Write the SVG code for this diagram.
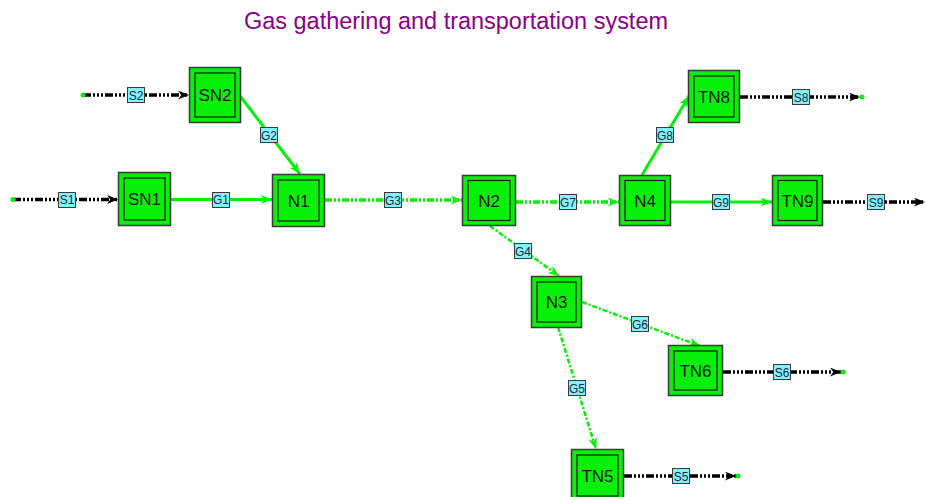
<svg xmlns="http://www.w3.org/2000/svg" width="926" height="497" viewBox="0 0 926 497">
  <style>
    .title { font-family: "Liberation Sans", Arial, sans-serif; font-size: 23.5px; fill: #880088; }
    .outer { fill: #08f008; stroke: #3a3a3a; stroke-width: 1.5; }
    .inner { fill: #08f008; stroke: #1a1a1a; stroke-width: 1.2; }
    .nlabel { font-family: "Liberation Sans", Arial, sans-serif; font-size: 17px; fill: #0d1a0d; text-anchor: middle; }
    .tag rect { fill: #84f2fa; stroke: #3a3a3a; stroke-width: 1; }
    .tag text { font-family: "Liberation Sans", Arial, sans-serif; font-size: 12px; fill: #1a2a3a; text-anchor: middle; }
    .src { stroke: #000; stroke-width: 3.5; fill: none; stroke-dasharray: 8 2 2 2 2 2 2 2; }
    .pipe { stroke: #08f008; stroke-width: 3; fill: none; }
    .pipe-dash { stroke: #08f008; stroke-width: 3.5; fill: none; stroke-dasharray: 7 2 2 2 2 2; }
    .pipe-thin { stroke: #08f008; stroke-width: 2.5; fill: none; stroke-dasharray: 5 2 2 2; }
    .end { fill: #08f008; }
  </style>
  <defs>
    <marker id="arrowBlack" viewBox="0 0 10 8" refX="10" refY="4" markerWidth="11" markerHeight="9" markerUnits="userSpaceOnUse" orient="auto">
      <path d="M0,0 L10,4 L0,8 L3,4 Z" fill="#000"/>
    </marker>
    <marker id="arrowGreen" viewBox="0 0 10 8" refX="10" refY="4" markerWidth="12" markerHeight="9" markerUnits="userSpaceOnUse" orient="auto">
      <path d="M0,0 L10,4 L0,8 L3,4 Z" fill="#08f008"/>
    </marker>
  </defs>

  <text class="title" x="244" y="29" textLength="424" lengthAdjust="spacingAndGlyphs">Gas gathering and transportation system</text>

  <!-- connectors -->
  <g id="connectors">
    <!-- supply / delivery streams -->
    <g id="S1">
      <line class="src" x1="13" y1="199.5" x2="118" y2="199.5" marker-end="url(#arrowBlack)"/>
      <circle class="end" cx="13" cy="199.5" r="2.5"/>
      <g class="tag"><rect x="58.5" y="192.5" width="17" height="15"/><text x="67" y="204">S1</text></g>
    </g>
    <g id="S2">
      <line class="src" x1="83" y1="95" x2="189" y2="95" marker-end="url(#arrowBlack)"/>
      <circle class="end" cx="83" cy="95" r="2.5"/>
      <g class="tag"><rect x="127.5" y="87.5" width="17" height="15"/><text x="136" y="99.5">S2</text></g>
    </g>
    <g id="S8">
      <line class="src" x1="740" y1="97" x2="860" y2="97" marker-end="url(#arrowBlack)"/>
      <circle class="end" cx="862" cy="97" r="2.5"/>
      <g class="tag"><rect x="792.5" y="89.5" width="17" height="15"/><text x="801" y="101.5">S8</text></g>
    </g>
    <g id="S9">
      <line class="src" x1="823" y1="202" x2="925" y2="202" marker-end="url(#arrowBlack)"/>
      <g class="tag"><rect x="867.5" y="194.5" width="17" height="15"/><text x="876" y="206.5">S9</text></g>
    </g>
    <g id="S6">
      <line class="src" x1="723" y1="372" x2="841" y2="372" marker-end="url(#arrowBlack)"/>
      <circle class="end" cx="843" cy="372" r="2.5"/>
      <g class="tag"><rect x="773.5" y="364.5" width="17" height="15"/><text x="782" y="376.5">S6</text></g>
    </g>
    <g id="S5">
      <line class="src" x1="624" y1="476" x2="736" y2="476" marker-end="url(#arrowBlack)"/>
      <circle class="end" cx="738" cy="476" r="2.5"/>
      <g class="tag"><rect x="672.5" y="468.5" width="17" height="15"/><text x="681" y="480.5">S5</text></g>
    </g>

    <!-- pipelines -->
    <g id="G1">
      <line class="pipe" x1="171" y1="199.5" x2="272" y2="199.5" marker-end="url(#arrowGreen)"/>
      <g class="tag"><rect x="212.5" y="192.5" width="17" height="15"/><text x="221" y="204">G1</text></g>
    </g>
    <g id="G2">
      <line class="pipe" x1="240" y1="96" x2="300" y2="174" marker-end="url(#arrowGreen)"/>
      <g class="tag"><rect x="260.5" y="127.5" width="17" height="15"/><text x="269" y="139.5">G2</text></g>
    </g>
    <g id="G3">
      <line class="pipe-dash" x1="325" y1="200" x2="462" y2="200" marker-end="url(#arrowGreen)"/>
      <g class="tag"><rect x="384.5" y="192.5" width="17" height="15"/><text x="393" y="204.5">G3</text></g>
    </g>
    <g id="G7">
      <line class="pipe-dash" x1="516" y1="202" x2="619" y2="202" marker-end="url(#arrowGreen)"/>
      <g class="tag"><rect x="559.5" y="194.5" width="17" height="15"/><text x="568" y="206.5">G7</text></g>
    </g>
    <g id="G4">
      <line class="pipe-thin" x1="490" y1="226" x2="559" y2="276" marker-end="url(#arrowGreen)"/>
      <g class="tag"><rect x="514.5" y="243.5" width="17" height="15"/><text x="523" y="255.5">G4</text></g>
    </g>
    <g id="G8">
      <line class="pipe" x1="642" y1="175" x2="689" y2="96" marker-end="url(#arrowGreen)"/>
      <g class="tag"><rect x="656.5" y="127.5" width="17" height="15"/><text x="665" y="139.5">G8</text></g>
    </g>
    <g id="G9">
      <line class="pipe" x1="671" y1="202" x2="772" y2="202" marker-end="url(#arrowGreen)"/>
      <g class="tag"><rect x="712.5" y="194.5" width="17" height="15"/><text x="721" y="206.5">G9</text></g>
    </g>
    <g id="G6">
      <line class="pipe-thin" x1="582" y1="302" x2="700" y2="346" marker-end="url(#arrowGreen)"/>
      <g class="tag"><rect x="631.5" y="316.5" width="17" height="15"/><text x="640" y="328.5">G6</text></g>
    </g>
    <g id="G5">
      <line class="pipe-thin" x1="558" y1="327" x2="596" y2="449" marker-end="url(#arrowGreen)"/>
      <g class="tag"><rect x="568.5" y="380.5" width="17" height="15"/><text x="577" y="392.5">G5</text></g>
    </g>
  </g>

  <!-- nodes -->
  <g id="SN2">
    <rect class="outer" x="189.5" y="67.5" width="51" height="55"/>
    <rect class="inner" x="195" y="73" width="40" height="44"/>
    <text class="nlabel" x="215" y="101">SN2</text>
  </g>
  <g id="SN1">
    <rect class="outer" x="118.5" y="172.5" width="52" height="53"/>
    <rect class="inner" x="124" y="178" width="41" height="42"/>
    <text class="nlabel" x="144.5" y="205">SN1</text>
  </g>
  <g id="N1">
    <rect class="outer" x="272.5" y="174.5" width="52" height="52"/>
    <rect class="inner" x="278" y="180" width="41" height="41"/>
    <text class="nlabel" x="298.5" y="206.5">N1</text>
  </g>
  <g id="N2">
    <rect class="outer" x="462.5" y="175.5" width="53" height="50"/>
    <rect class="inner" x="468" y="180.5" width="42" height="40"/>
    <text class="nlabel" x="489" y="206.5">N2</text>
  </g>
  <g id="N4">
    <rect class="outer" x="619.5" y="175.5" width="51" height="50"/>
    <rect class="inner" x="625" y="180.5" width="40" height="40"/>
    <text class="nlabel" x="645" y="206.5">N4</text>
  </g>
  <g id="TN8">
    <rect class="outer" x="688.5" y="70.5" width="51" height="52"/>
    <rect class="inner" x="694" y="76" width="40" height="41"/>
    <text class="nlabel" x="714" y="102.5">TN8</text>
  </g>
  <g id="TN9">
    <rect class="outer" x="772.5" y="175.5" width="50" height="50"/>
    <rect class="inner" x="778" y="180.5" width="39" height="40"/>
    <text class="nlabel" x="797.5" y="206.5">TN9</text>
  </g>
  <g id="N3">
    <rect class="outer" x="531.5" y="276.5" width="50" height="51"/>
    <rect class="inner" x="537" y="282" width="39" height="40"/>
    <text class="nlabel" x="556.5" y="308">N3</text>
  </g>
  <g id="TN6">
    <rect class="outer" x="668.5" y="345.5" width="54" height="50"/>
    <rect class="inner" x="674" y="351" width="43" height="39"/>
    <text class="nlabel" x="695.5" y="376.5">TN6</text>
  </g>
  <g id="TN5">
    <rect class="outer" x="571.5" y="449.5" width="52" height="52"/>
    <rect class="inner" x="577" y="455" width="41" height="41"/>
    <text class="nlabel" x="597.5" y="482">TN5</text>
  </g>
</svg>
